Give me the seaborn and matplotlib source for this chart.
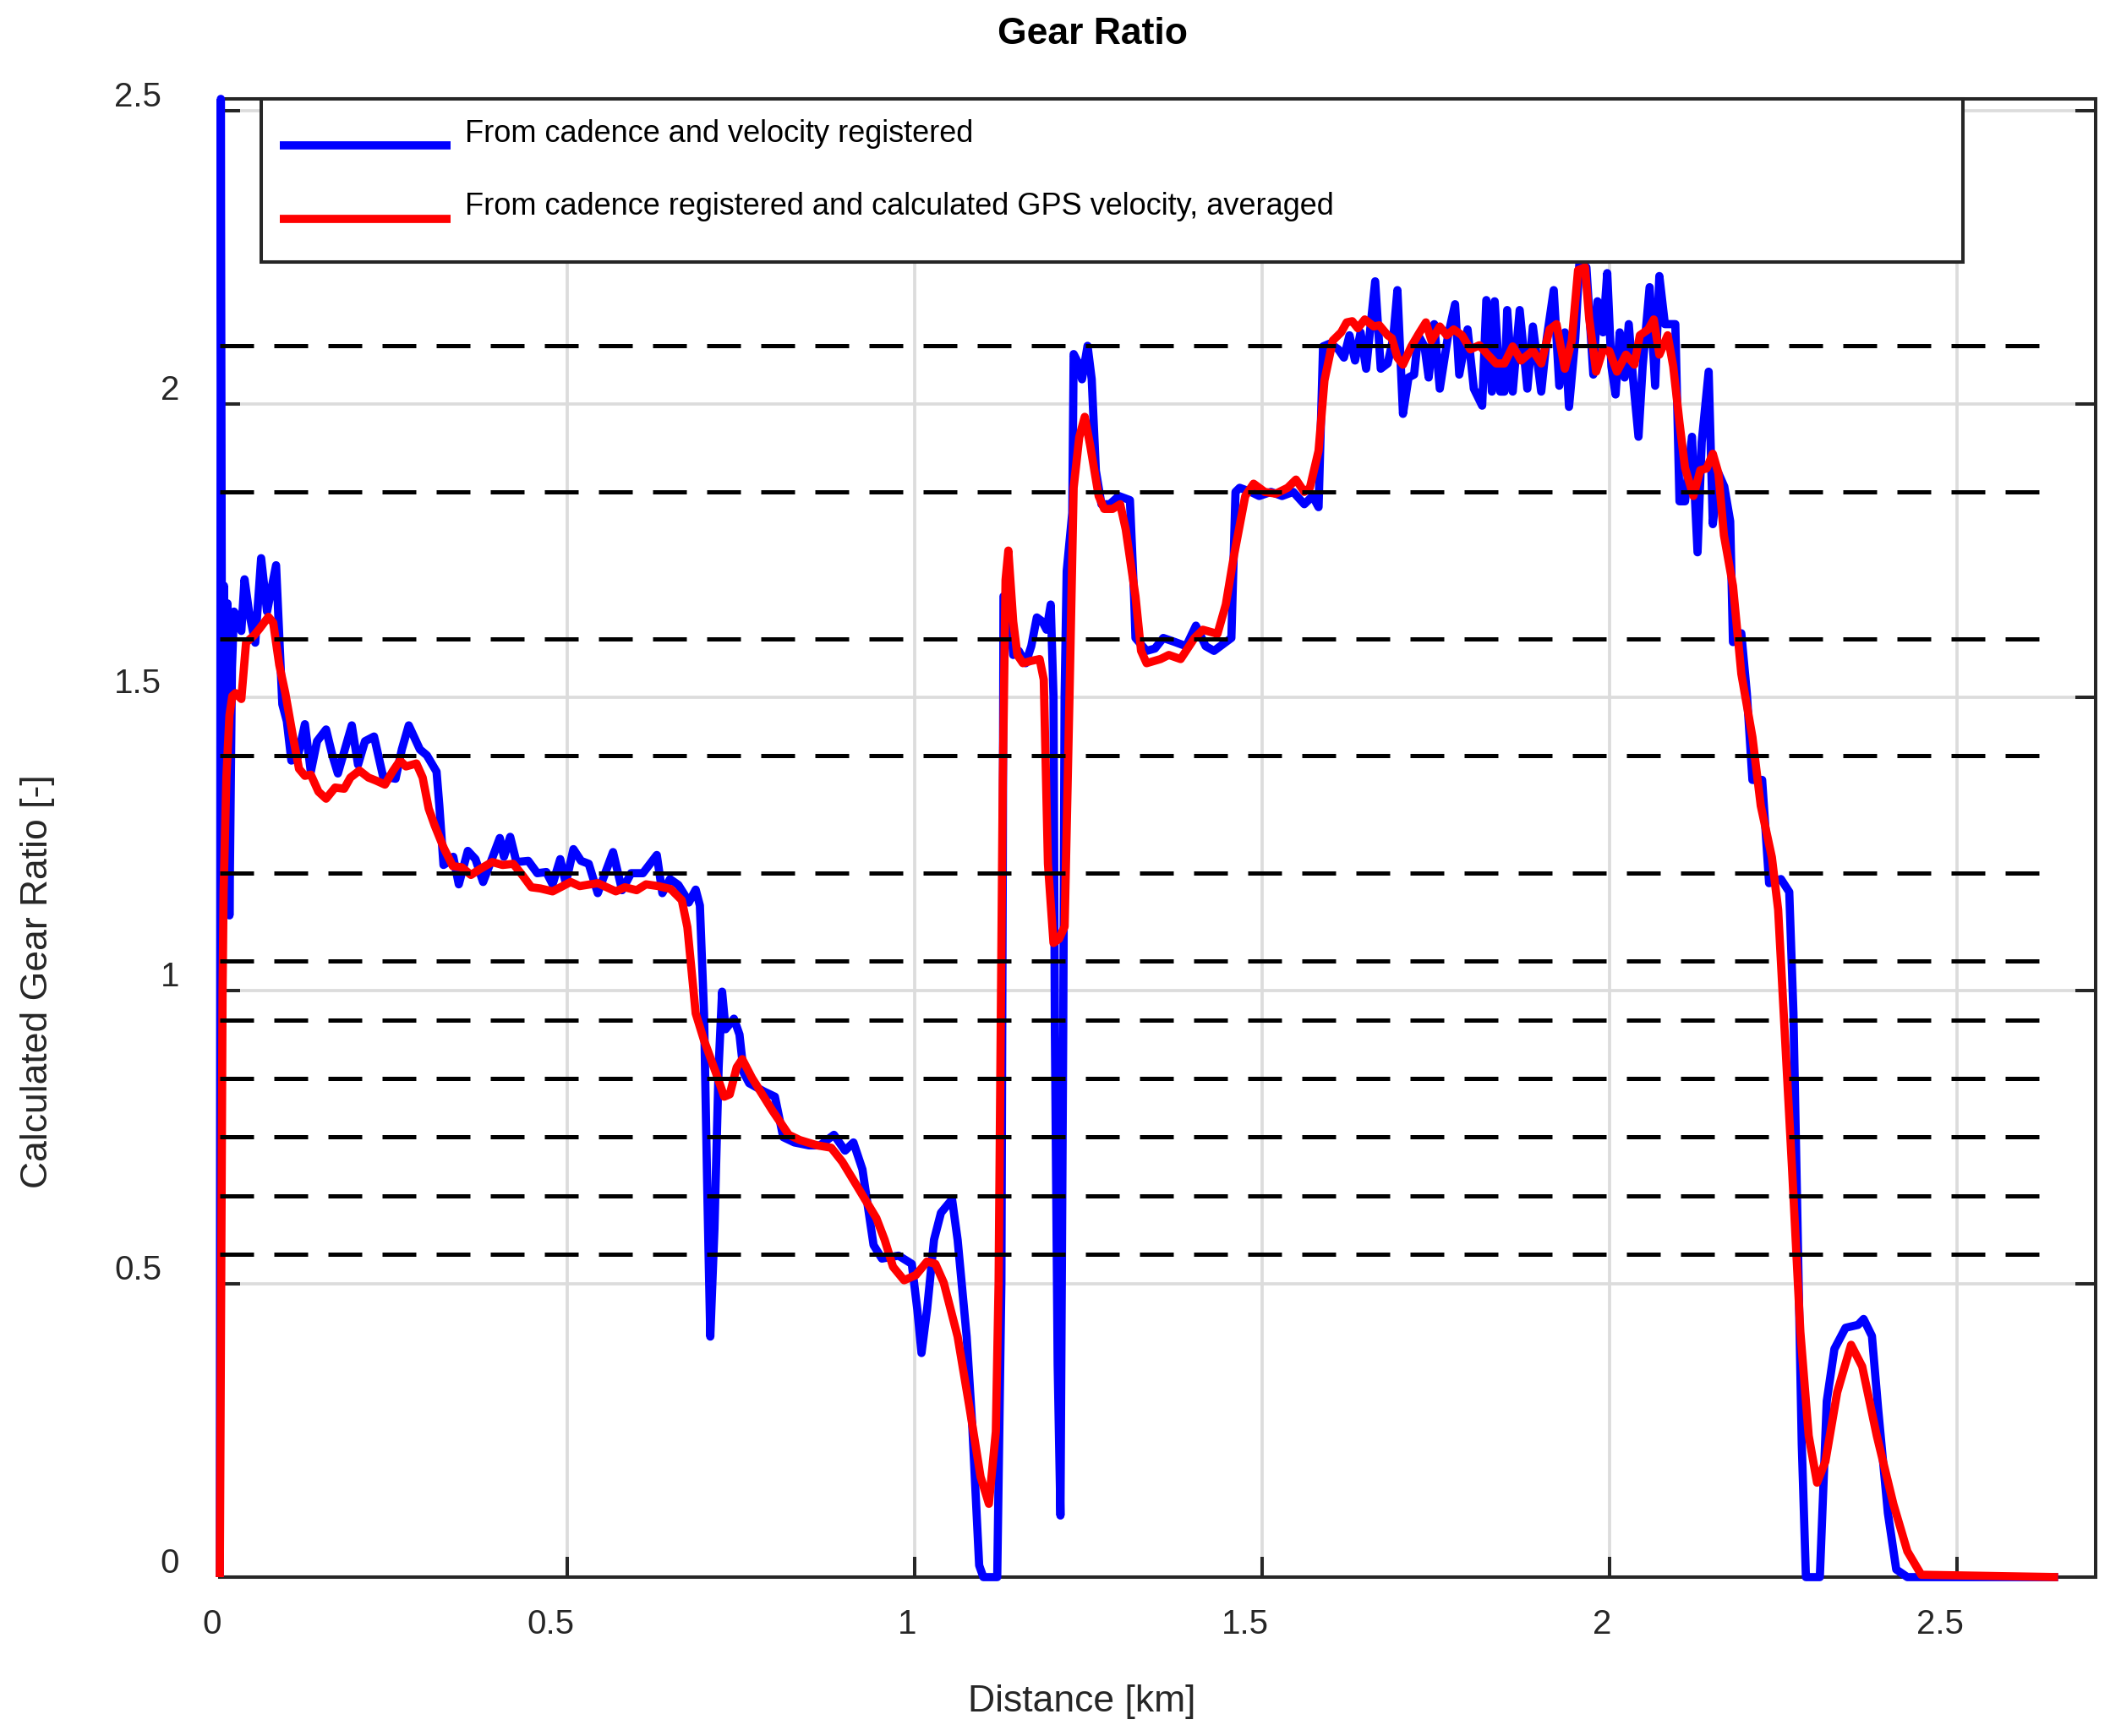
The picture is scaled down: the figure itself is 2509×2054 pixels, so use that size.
import numpy as np
import pandas as pd
import matplotlib
matplotlib.use("Agg")
import matplotlib.pyplot as plt
import seaborn as sns
from matplotlib.transforms import ScaledTranslation

# ---------------- data ----------------
blue_x = [0.000, 0.0015, 0.0035, 0.0060, 0.0090, 0.0110, 0.0139, 0.0175, 0.0204, 0.025,
          0.031, 0.0356, 0.042, 0.051, 0.0595, 0.068, 0.081, 0.090, 0.0965, 0.103,
          0.112, 0.1225, 0.131, 0.140, 0.153, 0.162, 0.170, 0.190, 0.199, 0.209,
          0.222, 0.235, 0.253, 0.262, 0.272, 0.288, 0.298, 0.312, 0.316, 0.322,
          0.331, 0.336, 0.344, 0.357, 0.368, 0.379, 0.390, 0.403, 0.409, 0.418,
          0.427, 0.444, 0.457, 0.470, 0.479, 0.490, 0.498, 0.509, 0.520, 0.531,
          0.544, 0.566, 0.579, 0.592, 0.609, 0.629, 0.637, 0.648, 0.660, 0.669,
          0.675, 0.685, 0.691, 0.697, 0.702, 0.706, 0.712, 0.718, 0.723, 0.728,
          0.740, 0.748, 0.754, 0.762, 0.783, 0.799, 0.811, 0.827, 0.848, 0.864,
          0.884, 0.900, 0.912, 0.925, 0.941, 0.953, 0.977, 0.996, 1.004, 1.010,
          1.018, 1.028, 1.038, 1.054, 1.062, 1.075, 1.083, 1.093, 1.099, 1.119,
          1.125, 1.127, 1.128, 1.136, 1.142, 1.150, 1.160, 1.168, 1.176, 1.184,
          1.190, 1.196, 1.200, 1.202, 1.206, 1.210, 1.214, 1.216, 1.219, 1.227,
          1.229, 1.235, 1.241, 1.249, 1.255, 1.261, 1.269, 1.281, 1.294, 1.310,
          1.316, 1.318, 1.334, 1.346, 1.358, 1.375, 1.391, 1.405, 1.419, 1.431,
          1.456, 1.462, 1.468, 1.484, 1.496, 1.513, 1.529, 1.545, 1.561, 1.573,
          1.5815, 1.588, 1.598, 1.610, 1.618, 1.626, 1.634, 1.642, 1.650, 1.663,
          1.671, 1.681, 1.689, 1.695, 1.703, 1.711, 1.719, 1.725, 1.734, 1.740,
          1.748, 1.756, 1.768, 1.778, 1.784, 1.796, 1.805, 1.817, 1.823, 1.831,
          1.835, 1.843, 1.849, 1.853, 1.861, 1.871, 1.882, 1.890, 1.902, 1.910,
          1.920, 1.928, 1.936, 1.942, 1.951, 1.957, 1.967, 1.977, 1.983, 1.991,
          1.997, 2.003, 2.009, 2.015, 2.022, 2.028, 2.034, 2.042, 2.048, 2.058,
          2.066, 2.072, 2.080, 2.095, 2.101, 2.109, 2.119, 2.127, 2.133, 2.143,
          2.149, 2.157, 2.1655, 2.174, 2.178, 2.190, 2.198, 2.206, 2.220, 2.230,
          2.247, 2.259, 2.265, 2.271, 2.277, 2.283, 2.303, 2.313, 2.324, 2.340,
          2.358, 2.366, 2.378, 2.387, 2.401, 2.413, 2.429, 2.646]
blue_y = [0.00, 2.52, 1.25, 1.69, 1.30, 1.66, 1.128, 1.55, 1.646, 1.637,
          1.613, 1.701, 1.646, 1.593, 1.737, 1.646, 1.725, 1.488, 1.459, 1.392,
          1.397, 1.454, 1.373, 1.425, 1.445, 1.401, 1.370, 1.452, 1.385, 1.425,
          1.433, 1.365, 1.361, 1.411, 1.452, 1.411, 1.401, 1.373, 1.315, 1.214,
          1.221, 1.228, 1.181, 1.238, 1.224, 1.185, 1.219, 1.260, 1.228, 1.262,
          1.219, 1.221, 1.200, 1.202, 1.181, 1.224, 1.183, 1.241, 1.221, 1.216,
          1.166, 1.236, 1.171, 1.200, 1.200, 1.231, 1.166, 1.190, 1.180, 1.163,
          1.150, 1.172, 1.145, 0.961, 0.640, 0.410, 0.594, 0.869, 0.998, 0.934,
          0.952, 0.925, 0.860, 0.842, 0.828, 0.819, 0.750, 0.741, 0.736, 0.736,
          0.754, 0.727, 0.741, 0.695, 0.566, 0.543, 0.548, 0.534, 0.456, 0.382,
          0.456, 0.575, 0.621, 0.644, 0.575, 0.410, 0.260, 0.020, 0.000, 0.000,
          0.504, 1.216, 1.672, 1.658, 1.572, 1.579, 1.558, 1.587, 1.636, 1.629,
          1.615, 1.658, 1.501, 0.931, 0.362, 0.105, 0.931, 1.501, 1.715, 1.814,
          2.085, 2.071, 2.042, 2.099, 2.042, 1.886, 1.829, 1.829, 1.843, 1.836,
          1.672, 1.601, 1.579, 1.583, 1.601, 1.594, 1.587, 1.622, 1.587, 1.579,
          1.601, 1.850, 1.857, 1.850, 1.843, 1.850, 1.843, 1.850, 1.829, 1.843,
          1.824, 2.098, 2.103, 2.093, 2.079, 2.117, 2.074, 2.122, 2.060, 2.209,
          2.060, 2.069, 2.112, 2.194, 1.983, 2.045, 2.050, 2.117, 2.098, 2.045,
          2.136, 2.026, 2.117, 2.170, 2.050, 2.127, 2.026, 1.997, 2.177, 2.021,
          2.175, 2.021, 2.021, 2.160, 2.021, 2.160, 2.026, 2.132, 2.021, 2.112,
          2.194, 2.031, 2.122, 1.995, 2.112, 2.242, 2.233, 2.050, 2.175, 2.122,
          2.223, 2.064, 2.016, 2.122, 2.045, 2.136, 2.045, 1.944, 2.064, 2.199,
          2.031, 2.218, 2.136, 2.136, 1.834, 1.834, 1.944, 1.747, 1.935, 2.055,
          1.795, 1.882, 1.859, 1.800, 1.594, 1.609, 1.506, 1.359, 1.359, 1.183,
          1.190, 1.168, 0.962, 0.594, 0.227, 0.000, 0.000, 0.300, 0.389, 0.425,
          0.430, 0.440, 0.411, 0.286, 0.109, 0.013, 0.000, 0.000]

red_x = [0.000, 0.002, 0.004, 0.0055, 0.0095, 0.0139, 0.018, 0.0226, 0.031, 0.0378,
         0.049, 0.0573, 0.070, 0.0769, 0.0856, 0.0943, 0.105, 0.114, 0.1225, 0.131,
         0.142, 0.153, 0.166, 0.179, 0.188, 0.201, 0.214, 0.2246, 0.2377, 0.2485,
         0.2594, 0.268, 0.283, 0.292, 0.3007, 0.3094, 0.3224, 0.3354, 0.3484, 0.3615,
         0.3745, 0.392, 0.407, 0.4223, 0.4353, 0.4484, 0.4614, 0.479, 0.505, 0.518,
         0.544, 0.570, 0.583, 0.600, 0.6135, 0.631, 0.649, 0.665, 0.673, 0.679,
         0.685, 0.697, 0.714, 0.726, 0.734, 0.744, 0.752, 0.766, 0.795, 0.819,
         0.835, 0.860, 0.880, 0.896, 0.917, 0.945, 0.957, 0.969, 0.985, 1.002,
         1.018, 1.030, 1.042, 1.062, 1.079, 1.095, 1.107, 1.117, 1.121, 1.123,
         1.127, 1.131, 1.135, 1.142, 1.148, 1.156, 1.168, 1.180, 1.186, 1.192,
         1.200, 1.208, 1.216, 1.223, 1.229, 1.237, 1.245, 1.253, 1.265, 1.273,
         1.285, 1.296, 1.304, 1.318, 1.326, 1.334, 1.354, 1.366, 1.383, 1.403,
         1.415, 1.436, 1.448, 1.460, 1.476, 1.488, 1.504, 1.520, 1.537, 1.549,
         1.561, 1.569, 1.5815, 1.590, 1.602, 1.614, 1.622, 1.630, 1.638, 1.648,
         1.661, 1.669, 1.681, 1.687, 1.695, 1.703, 1.715, 1.727, 1.736, 1.744,
         1.756, 1.766, 1.776, 1.788, 1.800, 1.813, 1.825, 1.837, 1.849, 1.861,
         1.873, 1.890, 1.902, 1.914, 1.924, 1.936, 1.946, 1.955, 1.965, 1.971,
         1.981, 1.991, 2.000, 2.011, 2.024, 2.036, 2.044, 2.056, 2.064, 2.072,
         2.084, 2.092, 2.101, 2.109, 2.121, 2.131, 2.140, 2.149, 2.157, 2.165,
         2.178, 2.190, 2.206, 2.218, 2.234, 2.243, 2.251, 2.263, 2.275, 2.287,
         2.299, 2.311, 2.328, 2.348, 2.364, 2.385, 2.409, 2.429, 2.449, 2.646]
red_y = [0.000, 0.500, 1.000, 1.170, 1.364, 1.469, 1.502, 1.507, 1.497, 1.593,
         1.605, 1.617, 1.637, 1.627, 1.555, 1.507, 1.435, 1.378, 1.366, 1.368,
         1.339, 1.327, 1.346, 1.344, 1.363, 1.375, 1.363, 1.358, 1.351, 1.373,
         1.392, 1.382, 1.387, 1.363, 1.310, 1.281, 1.243, 1.212, 1.210, 1.197,
         1.207, 1.219, 1.214, 1.216, 1.197, 1.176, 1.174, 1.169, 1.185, 1.178,
         1.183, 1.169, 1.176, 1.171, 1.181, 1.178, 1.173, 1.154, 1.108, 1.035,
         0.961, 0.915, 0.860, 0.819, 0.823, 0.869, 0.883, 0.851, 0.796, 0.754,
         0.745, 0.736, 0.732, 0.708, 0.667, 0.612, 0.575, 0.529, 0.506, 0.515,
         0.538, 0.534, 0.502, 0.410, 0.290, 0.171, 0.125, 0.248, 0.502, 0.789,
         1.359, 1.700, 1.750, 1.629, 1.572, 1.558, 1.562, 1.565, 1.530, 1.216,
         1.081, 1.088, 1.109, 1.501, 1.857, 1.943, 1.978, 1.928, 1.843, 1.821,
         1.821, 1.829, 1.786, 1.672, 1.579, 1.558, 1.565, 1.572, 1.565, 1.601,
         1.615, 1.608, 1.658, 1.743, 1.843, 1.864, 1.850, 1.847, 1.857, 1.871,
         1.850, 1.857, 1.920, 2.040, 2.108, 2.122, 2.139, 2.141, 2.129, 2.144,
         2.132, 2.134, 2.117, 2.112, 2.079, 2.067, 2.098, 2.122, 2.139, 2.108,
         2.132, 2.117, 2.127, 2.117, 2.093, 2.100, 2.084, 2.069, 2.069, 2.098,
         2.074, 2.091, 2.069, 2.127, 2.136, 2.060, 2.108, 2.228, 2.233, 2.146,
         2.055, 2.093, 2.090, 2.055, 2.084, 2.067, 2.117, 2.127, 2.144, 2.084,
         2.117, 2.064, 1.968, 1.891, 1.843, 1.887, 1.890, 1.915, 1.882, 1.776,
         1.690, 1.540, 1.432, 1.315, 1.227, 1.138, 0.962, 0.697, 0.418, 0.241,
         0.161, 0.197, 0.315, 0.396, 0.359, 0.241, 0.124, 0.044, 0.004, 0.000]

gear_ratios = [2.1, 1.85, 1.6, 1.4, 1.2, 1.05, 0.95, 0.85, 0.75, 0.65, 0.55]

x_ticks = [0, 0.5, 1, 1.5, 2, 2.5]
x_tick_labels = ["0", "0.5", "1", "1.5", "2", "2.5"]
y_ticks = [0, 0.5, 1, 1.5, 2, 2.5]
y_tick_labels = ["0", "0.5", "1", "1.5", "2", "2.5"]

series_labels = ["From cadence and velocity registered",
                 "From cadence registered and calculated GPS velocity, averaged"]
title_text = "Gear Ratio"
x_label = "Distance [km]"
y_label = "Calculated Gear Ratio [-]"

# ---------------- style ----------------
sns.set_theme(style="white")
plt.rcParams['font.family'] = ['Liberation Sans', 'DejaVu Sans']
DARK = '#262626'
LW_DATA = 7.0

W, H = 2509, 2054
fig = plt.figure(figsize=(W / 100, H / 100), dpi=100)
ax = fig.add_axes([260 / W, 1 - 1866 / H, (2479 - 260) / W, (1866 - 117) / H])

df_blue = pd.DataFrame({"Distance": blue_x, "Ratio": blue_y})
df_red = pd.DataFrame({"Distance": red_x, "Ratio": red_y})

sns.lineplot(data=df_blue, x="Distance", y="Ratio", ax=ax, color=(0, 0, 1),
             linewidth=LW_DATA, sort=False, estimator=None, zorder=3, legend=False)
sns.lineplot(data=df_red, x="Distance", y="Ratio", ax=ax, color=(1, 0, 0),
             linewidth=LW_DATA, sort=False, estimator=None, zorder=4, legend=False)
data_lines = list(ax.lines)
for ln in data_lines:
    ln.set_linewidth(LW_DATA)
    ln.set_clip_on(False)
    ln.set_solid_joinstyle('round')
    ln.set_solid_capstyle('butt')

x_end = max(red_x)
for g in gear_ratios:
    ax.plot([0, x_end], [g, g], color='black', lw=3.6, dashes=(8, 4.8), zorder=5)

ax.set_xlim(0, 2.7)
ax.set_ylim(0, 2.52)
ax.set_xticks(x_ticks)
ax.set_xticklabels(x_tick_labels)
ax.set_yticks(y_ticks)
ax.set_yticklabels(y_tick_labels)
ax.set_xlabel("")
ax.set_ylabel("")

ax.grid(True, color='#dcdcdc', lw=2.7)
ax.set_axisbelow(True)
for s in ax.spines.values():
    s.set_color(DARK)
    s.set_linewidth(2.9)
    s.set_visible(True)

ax.tick_params(axis='both', which='major', direction='in', length=17, width=2.9,
               colors=DARK, labelsize=29, top=True, right=True,
               bottom=True, left=True)
ax.tick_params(axis='x', pad=26.5)
ax.tick_params(axis='y', pad=34.5)

# legend
leg = ax.legend(handles=data_lines, labels=series_labels,
                loc='upper left', bbox_to_anchor=(49 / 2219, 0.0, 2013 / 2219, 1.0),
                mode='expand', borderaxespad=0, fontsize=26, handlelength=5.6,
                handletextpad=0.47, borderpad=0.77, labelspacing=0.97,
                handleheight=1.8,
                frameon=True, fancybox=False, edgecolor=DARK, framealpha=1)
leg.get_frame().set_linewidth(2.9)
leg.set_zorder(10)
for t in leg.get_texts():
    t.set_color('black')
    t.set_y(14)
    t.set_x(-6)
for h in leg.legend_handles:
    yd = np.asarray(h.get_ydata(), dtype=float)
    xd = np.asarray(h.get_xdata(), dtype=float)
    h.set_ydata(yd - 6.5)
    h.set_xdata(xd - 4.3)

# titles / labels
fig.text(1293 / W, 1 - 52 / H, title_text, ha='center', va='baseline',
         fontsize=32, fontweight='bold', color='black')
fig.text(1280 / W, 1 - 2013 / H, x_label, ha='center', va='center',
         fontsize=32, color=DARK)
fig.text(45 / W, 1 - 1161 / H, y_label, ha='center', va='center',
         rotation=90, fontsize=32, color=DARK)

# MATLAB-like tick label offsets
for lbl in ax.get_xticklabels():
    dx = -20 if '.' in lbl.get_text() else -9
    lbl.set_transform(lbl.get_transform() + ScaledTranslation(dx / 100, 0, fig.dpi_scale_trans))
for lbl in ax.get_yticklabels():
    dx = -21 if '.' in lbl.get_text() else 0
    lbl.set_transform(lbl.get_transform() + ScaledTranslation(dx / 100, 20 / 100, fig.dpi_scale_trans))

fig.savefig("out.png", dpi=100, facecolor='white')
